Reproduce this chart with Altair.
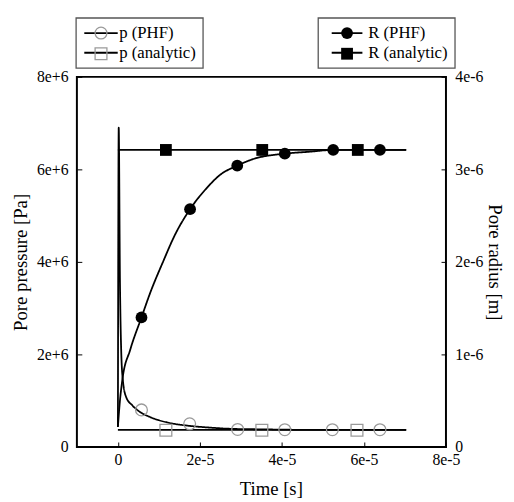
import altair as alt
import pandas as pd

# ---------------- data ----------------
# Pore pressure, PHF curve  (t [s], p [Pa])
p_phf_curve_t = [0.0, 0.02e-5, 0.05e-5, 0.08e-5, 0.12e-5, 0.2e-5, 0.35e-5, 0.5e-5, 0.8e-5,
                 1.2e-5, 1.7e-5, 2.2e-5, 2.8e-5, 3.5e-5, 4.5e-5, 5.5e-5, 7.03e-5]
p_phf_curve_v = [0.43e6, 6.9e6, 3.6e6, 2.1e6, 1.45e6, 1.08e6, 0.9e6, 0.78e6, 0.64e6,
                 0.53e6, 0.46e6, 0.42e6, 0.39e6, 0.38e6, 0.37e6, 0.37e6, 0.37e6]
# Pore pressure, analytic line
p_ana_line_t = [0.0, 7.03e-5]
p_ana_line_v = [0.37e6, 0.37e6]
# Pore pressure markers
p_phf_pts_t = [0.575e-5, 1.75e-5, 2.92e-5, 4.07e-5, 5.23e-5, 6.39e-5]
p_phf_pts_v = [0.80e6, 0.50e6, 0.377e6, 0.372e6, 0.372e6, 0.372e6]
p_ana_pts_t = [1.17e-5, 3.51e-5, 5.83e-5]
p_ana_pts_v = [0.36e6, 0.36e6, 0.36e6]

# Pore radius, PHF curve (t [s], R [m])
r_phf_curve_t = [0.0, 0.05e-5, 0.11e-5, 0.3e-5, 0.575e-5, 0.8e-5, 1.09e-5, 1.4e-5, 1.76e-5,
                 2.17e-5, 2.49e-5, 2.91e-5, 3.29e-5, 4.07e-5, 4.65e-5, 5.25e-5, 6.39e-5, 7.03e-5]
r_phf_curve_v = [0.22e-6, 0.5e-6, 0.73e-6, 1.05e-6, 1.40e-6, 1.68e-6, 1.99e-6, 2.30e-6, 2.57e-6,
                 2.80e-6, 2.94e-6, 3.04e-6, 3.11e-6, 3.17e-6, 3.19e-6, 3.21e-6, 3.21e-6, 3.21e-6]
r_ana_line_t = [0.0, 7.03e-5]
r_ana_line_v = [3.21e-6, 3.21e-6]
r_phf_pts_t = [0.575e-5, 1.76e-5, 2.91e-5, 4.07e-5, 5.25e-5, 6.39e-5]
r_phf_pts_v = [1.40e-6, 2.57e-6, 3.04e-6, 3.17e-6, 3.21e-6, 3.21e-6]
r_ana_pts_t = [1.17e-5, 3.52e-5, 5.85e-5]
r_ana_pts_v = [3.21e-6, 3.21e-6, 3.21e-6]

p_series = ["p (PHF)", "p (analytic)"]
r_series = ["R (PHF)", "R (analytic)"]
p_marks = ["pm_phf", "pm_ana"]
r_marks = ["rm_phf", "rm_ana"]

x_ticks = [0.0, 2e-5, 4e-5, 6e-5, 8e-5]
x_labels = ["0", "2e-5", "4e-5", "6e-5", "8e-5"]
yl_ticks = [0.0, 2e6, 4e6, 6e6, 8e6]
yl_labels = ["0", "2e+6", "4e+6", "6e+6", "8e+6"]
yr_ticks = [0.0, 1e-6, 2e-6, 3e-6, 4e-6]
yr_labels = ["0", "1e-6", "2e-6", "3e-6", "4e-6"]

FONT = "Liberation Serif"


def label_expr(vals, labs):
    expr = "''"
    for v, l in reversed(list(zip(vals, labs))):
        expr = f"datum.value == {v!r} ? '{l}' : ({expr})"
    return expr


def frame(ts, vs, col, name):
    return pd.DataFrame({"t": ts, "v": vs, col: name})


p_lines_df = pd.concat([frame(p_phf_curve_t, p_phf_curve_v, "series", p_series[0]),
                        frame(p_ana_line_t, p_ana_line_v, "series", p_series[1])])
p_pts_df = pd.concat([frame(p_phf_pts_t, p_phf_pts_v, "mk", p_marks[0]),
                      frame(p_ana_pts_t, p_ana_pts_v, "mk", p_marks[1])])
r_lines_df = pd.concat([frame(r_phf_curve_t, r_phf_curve_v, "series", r_series[0]),
                        frame(r_ana_line_t, r_ana_line_v, "series", r_series[1])])
r_pts_df = pd.concat([frame(r_phf_pts_t, r_phf_pts_v, "mk", r_marks[0]),
                      frame(r_ana_pts_t, r_ana_pts_v, "mk", r_marks[1])])

X = alt.X("t:Q",
          scale=alt.Scale(domain=[-1e-5, 8e-5], nice=False, zero=False),
          axis=alt.Axis(values=x_ticks, labelExpr=label_expr(x_ticks, x_labels),
                        title="Time [s]", offset=-5, tickSize=5, domain=False, grid=False,
                        labelFlush=False, labelPadding=5, titlePadding=12, titleX=197),
          )

YL = alt.Y("v:Q",
           scale=alt.Scale(domain=[0, 8e6], nice=False, zero=False),
           axis=alt.Axis(orient="left", values=yl_ticks, labelExpr=label_expr(yl_ticks, yl_labels),
                         title="Pore pressure [Pa]", offset=-5, tickSize=5, domain=False, grid=False,
                         labelFlush=False, labelPadding=9, titlePadding=6))
YR = alt.Y("v:Q",
           scale=alt.Scale(domain=[0, 4e-6], nice=False, zero=False),
           axis=alt.Axis(orient="right", values=yr_ticks, labelExpr=label_expr(yr_ticks, yr_labels),
                         title="Pore radius [m]", offset=-5, tickSize=5, domain=False, grid=False,
                         labelFlush=False, labelPadding=9, titlePadding=2))

LEG_Y = -60
common_leg = dict(orient="none", legendY=LEG_Y, title=None, symbolSize=144, padding=7,
                  rowPadding=2, labelFont=FONT, labelFontSize=17, labelColor="black")

p_leg_line = alt.Legend(legendX=-1, symbolOffset=10, labelOffset=10, strokeColor="#555",
                        symbolType="M-2.83,0H2.83", symbolStrokeColor="black",
                        symbolStrokeWidth=1.8, **common_leg)
p_leg_mark = alt.Legend(legendX=-1, symbolOffset=10, labelOffset=10, labelExpr="' '",
                        symbolStrokeColor="#9a9a9a", symbolStrokeWidth=1.3,
                        symbolFillColor="transparent", **common_leg)
r_leg_line = alt.Legend(legendX=245, symbolOffset=14, labelOffset=13, strokeColor="#555",
                        symbolType="M-2.6,0H2.6", symbolStrokeColor="black",
                        symbolStrokeWidth=1.8, **common_leg)
r_leg_mark = alt.Legend(legendX=245, symbolOffset=14, labelOffset=13, labelExpr="' '",
                        symbolStrokeColor="black", symbolFillColor="black", **common_leg)

p_lines = alt.Chart(p_lines_df).mark_line(color="black", strokeWidth=1.8, interpolate="monotone").encode(
    x=X, y=YL,
    strokeDash=alt.StrokeDash("series:N", scale=alt.Scale(domain=p_series, range=[[1, 0], [1, 0]]),
                              legend=p_leg_line))
p_pts = alt.Chart(p_pts_df).mark_point(filled=False, color="#9a9a9a", size=144, strokeWidth=1.3,
                                       opacity=1).encode(
    x=X, y=YL,
    shape=alt.Shape("mk:N", scale=alt.Scale(domain=p_marks, range=["circle", "square"]),
                    legend=p_leg_mark))

r_lines = alt.Chart(r_lines_df).mark_line(color="black", strokeWidth=1.8, interpolate="monotone").encode(
    x=X, y=YR,
    strokeDash=alt.StrokeDash("series:N", scale=alt.Scale(domain=r_series, range=[[1, 0], [1, 0]]),
                              legend=r_leg_line))
r_pts = alt.Chart(r_pts_df).mark_point(filled=True, color="black", size=144, opacity=1).encode(
    x=X, y=YR,
    shape=alt.Shape("mk:N", scale=alt.Scale(domain=r_marks, range=["circle", "square"]),
                    legend=r_leg_mark))

left = alt.layer(p_lines, p_pts)
right = alt.layer(r_lines, r_pts)

chart = (
    alt.layer(left, right)
    .resolve_scale(y="independent", shape="independent", strokeDash="independent")
    .resolve_axis(y="independent")
    .resolve_legend(shape="independent", strokeDash="independent")
    .properties(width=375, height=376,
                padding={"left": 70, "top": 66, "right": 61, "bottom": 52},
                autosize=alt.AutoSizeParams(type="none"))
    .configure_view(stroke="black", strokeWidth=2)
    .configure_axis(labelFont=FONT, titleFont=FONT, labelFontSize=16, titleFontSize=19,
                    titleFontWeight="normal", labelColor="black", titleColor="black",
                    tickColor="black", tickWidth=1)
    .configure_legend(strokeWidth=1.3)
)

chart.save("out.html", embed_options={"renderer": "svg", "actions": False})
